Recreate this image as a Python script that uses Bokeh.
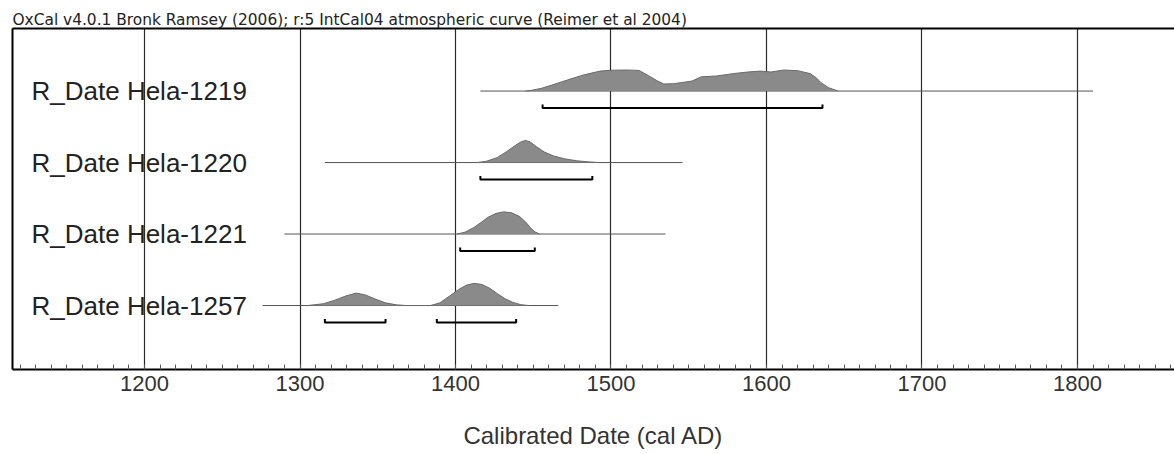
from bokeh.plotting import figure
from bokeh.models import Range1d, SingleIntervalTicker, FixedTicker, LinearAxis
from bokeh.core.properties import value
from bokeh.embed import file_html
from bokeh.resources import INLINE

# ---------------- data ----------------
names = ["R_Date Hela-1219", "R_Date Hela-1220", "R_Date Hela-1221", "R_Date Hela-1257"]
row_pos = [4, 3, 2, 1]
line_start = [1416, 1316, 1290, 1276]
line_end = [1810, 1546, 1535, 1466]

d1219_year = [1445, 1448, 1455, 1462, 1472, 1482, 1493, 1500, 1510, 1518, 1524, 1530, 1534,
              1540, 1547, 1552, 1558, 1568, 1579, 1588, 1596, 1603, 1611, 1620, 1628, 1632,
              1635, 1640, 1646]
d1219_prob = [0.0, 0.02, 0.12, 0.27, 0.5, 0.72, 0.9, 0.94, 0.95, 0.93, 0.7, 0.45, 0.32,
              0.33, 0.4, 0.45, 0.64, 0.68, 0.79, 0.86, 0.9, 0.86, 0.95, 0.92, 0.79, 0.6,
              0.38, 0.15, 0.0]

d1220_year = [1414, 1420, 1427, 1433, 1438, 1442, 1445, 1448, 1452, 1457, 1463, 1470, 1478,
              1486, 1492]
d1220_prob = [0.0, 0.06, 0.23, 0.5, 0.75, 0.93, 1.0, 0.93, 0.72, 0.48, 0.3, 0.17, 0.08,
              0.03, 0.0]

d1221_year = [1401, 1406, 1412, 1417, 1421, 1426, 1431, 1436, 1441, 1445, 1448, 1451, 1454]
d1221_prob = [0.0, 0.08, 0.3, 0.55, 0.76, 0.93, 1.0, 0.96, 0.8, 0.55, 0.3, 0.1, 0.0]

d1257_year = [1305, 1315, 1322, 1329, 1336, 1342, 1348, 1355, 1362, 1368, 1384, 1390, 1396,
              1402, 1407, 1412, 1417, 1422, 1427, 1432, 1437, 1442, 1447]
d1257_prob = [0.0, 0.08, 0.23, 0.42, 0.56, 0.48, 0.3, 0.12, 0.03, 0.0, 0.0, 0.12, 0.42,
              0.72, 0.92, 1.0, 0.95, 0.78, 0.53, 0.3, 0.14, 0.04, 0.0]

dens_years = [d1219_year, d1220_year, d1221_year, d1257_year]
dens_probs = [d1219_prob, d1220_prob, d1221_prob, d1257_prob]

range_from = [[1456], [1416], [1403], [1316, 1388]]
range_to = [[1636], [1488], [1451], [1355, 1439]]

header = "OxCal v4.0.1 Bronk Ramsey (2006); r:5 IntCal04 atmospheric curve (Reimer et al 2004)"
x_title = "Calibrated Date (cal AD)"

# ---------------- style ----------------
DENS_SCALE = 0.31
BRACKET_DROP = 0.237
BRACKET_TICK = 0.05
X0, X1 = 1115.1, 1862.4
Y0, Y1 = 0.105, 4.875

p = figure(width=1174, height=454, output_backend="svg", toolbar_location=None,
           x_range=Range1d(X0, X1), y_range=Range1d(Y0, Y1),
           min_border_left=12, min_border_right=0, min_border_top=28, min_border_bottom=85,
           background_fill_color="white", border_fill_color="white")
p.outline_line_color = None
p.ygrid.visible = False

p.xgrid.ticker = SingleIntervalTicker(interval=100)
p.xgrid.grid_line_color = "#2a2a2a"
p.xgrid.grid_line_width = 1.2

xa = p.xaxis[0]
xa.ticker = SingleIntervalTicker(interval=100, num_minor_ticks=10)
xa.axis_line_color = "black"
xa.axis_line_width = 2
xa.major_tick_in = 0
xa.major_tick_out = 0
xa.minor_tick_in = 5
xa.minor_tick_out = 0
xa.minor_tick_line_color = "#555555"
xa.major_label_text_font = "Liberation Sans"
xa.major_label_text_font_size = "22px"
xa.major_label_text_color = "#333333"
xa.major_label_standoff = 6
xa.axis_label = x_title
xa.axis_label_text_font = "Liberation Sans"
xa.axis_label_text_font_size = "24px"
xa.axis_label_text_font_style = "normal"
xa.axis_label_text_color = "#333333"
xa.axis_label_standoff = 28

for ax in list(p.yaxis):
    ax.ticker = FixedTicker(ticks=[])
    ax.axis_line_color = "black"
    ax.axis_line_width = 2
    ax.major_tick_in = 0
    ax.major_tick_out = 0
    ax.minor_tick_in = 0
    ax.minor_tick_out = 0
    ax.major_label_standoff = 0
    ax.major_label_text_font_size = "0px"

top = LinearAxis(ticker=FixedTicker(ticks=[]), axis_line_color="black", axis_line_width=2,
                 major_tick_in=0, major_tick_out=0, minor_tick_in=0, minor_tick_out=0,
                 major_label_standoff=0, major_label_text_font_size="0px")
p.add_layout(top, "above")

p.title.text = header
p.title.text_font = "DejaVu Sans"
p.title.text_font_size = "15.4px"
p.title.text_font_style = "normal"
p.title.text_color = "#222222"
p.title.align = "left"
p.title.offset = 0
p.title.standoff = 0

# baselines
for i in range(len(names)):
    y = row_pos[i]
    p.line([line_start[i], line_end[i]], [y, y], line_color="#555555", line_width=1)

# densities
for i in range(len(names)):
    y = row_pos[i]
    xs = dens_years[i]
    tops = [y + v * DENS_SCALE for v in dens_probs[i]]
    p.varea(x=xs, y1=[y] * len(xs), y2=tops, fill_color="#8a8a8a")
    p.line(xs, tops, line_color="#6a6a6a", line_width=1)

# brackets
for i in range(len(names)):
    yb = row_pos[i] - BRACKET_DROP
    for a, b in zip(range_from[i], range_to[i]):
        p.line([a, a, b, b], [yb + BRACKET_TICK, yb, yb, yb + BRACKET_TICK],
               line_color="black", line_width=2)

# labels
p.text(x=[X0] * len(names), y=row_pos, text=names, x_offset=19,
       text_font=value("Liberation Sans"), text_font_size="26px",
       text_color="#222222", text_baseline="middle", text_align="left")

open("out.html", "w").write(file_html(p, INLINE))
